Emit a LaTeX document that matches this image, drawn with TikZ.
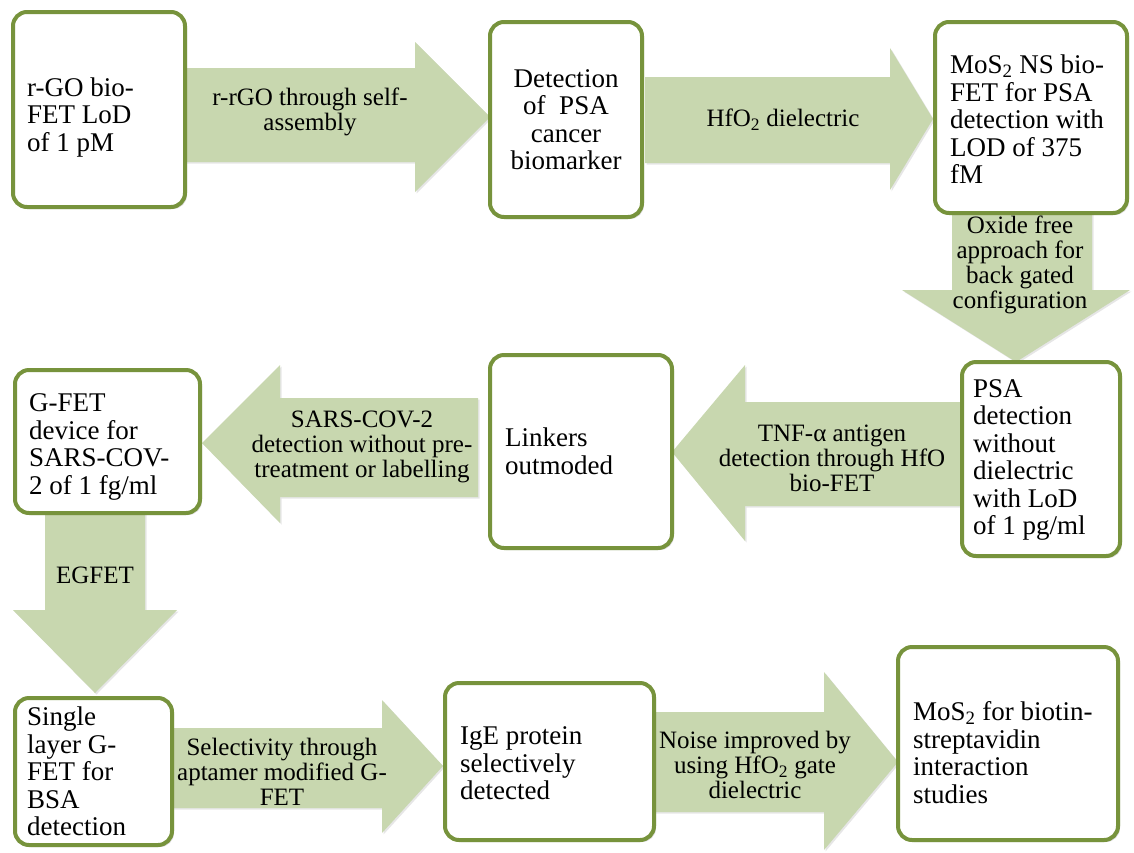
\documentclass[tikz,border=0pt]{standalone}
\usepackage{fontspec}
\setmainfont{Liberation Serif}
\usetikzlibrary{shadows}
\definecolor{boxline}{RGB}{119,147,60}
\definecolor{arrowfill}{RGB}{200,215,175}
\tikzset{
  stepbox/.style={draw=boxline, line width=4pt, fill=white, rounded corners=14pt,
    inner sep=0pt,
    drop shadow={shadow xshift=2pt, shadow yshift=-2pt, opacity=0.3}},
  boxtext/.style={font=\fontsize{27}{27.5}\selectfont, align=left, inner sep=0pt, anchor=west},
  midtext/.style={font=\fontsize{27}{27.5}\selectfont, align=center, inner sep=0pt},
  blockarrow/.style={fill=arrowfill,
    drop shadow={shadow xshift=1.5pt, shadow yshift=-1.5pt, opacity=0.2}},
  arrowtext/.style={font=\fontsize{25}{25}\selectfont, align=center, inner sep=0pt},
}
\begin{document}
\begin{tikzpicture}[x=1pt, y=-1pt]
\useasboundingbox (0,0) rectangle (1134,852);

% block arrows (drawn first so the boxes sit on top of them)
\fill[blockarrow] (178,68) -- (415,68) -- (415,42) -- (490,117) -- (415,192) -- (415,162) -- (178,162) -- cycle;
\fill[blockarrow] (645,77) -- (890,77) -- (890,48) -- (933,119) -- (890,190) -- (890,163) -- (645,163) -- cycle;
\fill[blockarrow] (952,205) -- (1092,205) -- (1092,290) -- (1130,290) -- (1016,362) -- (902,290) -- (952,290) -- cycle;
\fill[blockarrow] (960,402) -- (745,402) -- (745,365) -- (672,452) -- (745,541) -- (745,506) -- (960,506) -- cycle;
\fill[blockarrow] (478,398) -- (280,398) -- (280,365) -- (202,443) -- (280,523) -- (280,497) -- (478,497) -- cycle;
\fill[blockarrow] (45,508) -- (145,508) -- (145,610) -- (177,610) -- (95,693) -- (13,610) -- (45,610) -- cycle;
\fill[blockarrow] (172,728) -- (382,728) -- (382,700) -- (443,766) -- (382,833) -- (382,808) -- (172,808) -- cycle;
\fill[blockarrow] (654,712) -- (824,712) -- (824,672) -- (898,762) -- (824,850) -- (824,812) -- (654,812) -- cycle;

% arrow labels
\node[arrowtext] (a1) at (310,112) {r-rGO through self-\\assembly};
\node[arrowtext] (a2) at (783,120) {HfO\textsubscript{2} dielectric};
\node[arrowtext] (a3) at (1020,265) {Oxide free\\approach for\\back gated\\configuration};
\node[arrowtext] (a4) at (832,458) {TNF-α antigen\\detection through HfO\\bio-FET};
\node[arrowtext] (a5) at (362,447) {SARS-COV-2\\detection without pre-\\treatment or labelling};
\node[arrowtext] (a6) at (95,575) {EGFET};
\node[arrowtext] (a7) at (282,772) {Selectivity through\\aptamer modified G-\\FET};
\node[arrowtext] (a8) at (755,765) {Noise improved by\\using HfO\textsubscript{2} gate\\dielectric};

% step boxes
\node[stepbox, minimum width=172pt, minimum height=195pt] (b1) at (99,109.5) {};
\node[stepbox, minimum width=152pt, minimum height=195pt] (b2) at (566,119.5) {};
\node[stepbox, minimum width=192pt, minimum height=191pt] (b3) at (1031,117.5) {};
\node[stepbox, minimum width=158pt, minimum height=194pt] (b4) at (1041,459) {};
\node[stepbox, minimum width=182pt, minimum height=193pt] (b5) at (581,451.5) {};
\node[stepbox, minimum width=185pt, minimum height=143pt] (b6) at (107.5,441.5) {};
\node[stepbox, minimum width=157pt, minimum height=147pt] (b7) at (93.5,771.5) {};
\node[stepbox, minimum width=209pt, minimum height=157pt] (b8) at (549.5,761.5) {};
\node[stepbox, minimum width=220pt, minimum height=193pt] (b9) at (1008,743.5) {};

% box texts
\node[boxtext] (t1) at (27,117.5) {r-GO bio-\\FET LoD\\of 1 pM};
\node[midtext] (t2) at (566,119.5) {Detection\\of~ PSA\\cancer\\biomarker};
\node[boxtext] (t3) at (950,119.5) {MoS\textsubscript{2} NS bio-\\FET for PSA\\detection with\\LOD of 375\\fM};
\node[boxtext] (t4) at (973,460) {PSA\\detection\\without\\dielectric\\with LoD\\of 1 pg/ml};
\node[boxtext] (t5) at (505,451.5) {Linkers\\outmoded};
\node[boxtext] (t6) at (29,447) {G-FET\\device for\\SARS-COV-\\2 of 1 fg/ml};
\node[boxtext] (t7) at (27,771.5) {Single\\layer G-\\FET for\\BSA\\detection};
\node[boxtext] (t8) at (460,763.5) {IgE protein\\selectively\\detected};
\node[boxtext] (t9) at (913,752.5) {MoS\textsubscript{2} for biotin-\\streptavidin\\interaction\\studies};
\end{tikzpicture}
\end{document}
